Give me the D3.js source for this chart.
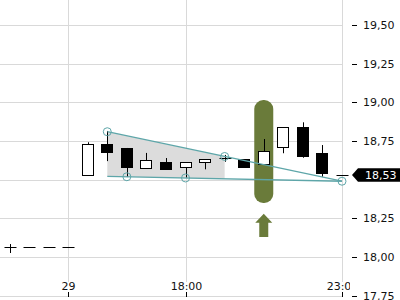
<!DOCTYPE html>
<html><head><meta charset="utf-8">
<script src="https://cdn.jsdelivr.net/npm/d3@7"></script>
<style>html,body{margin:0;padding:0;background:#fff;overflow:hidden}svg{display:block}text{font-family:"DejaVu Sans",sans-serif;font-size:11px}</style>
</head><body><svg id="c" width="400" height="300"></svg>
<script>
// ---- data ----
const openV  = [18.066,18.066,18.066,18.066,18.53,18.73,18.705,18.574,18.614,18.58,18.612,18.638,18.632,18.60,18.71,18.839,18.673,18.53];
const closeV = [18.066,18.066,18.066,18.066,18.73,18.68,18.58,18.629,18.571,18.612,18.632,18.638,18.58,18.684,18.839,18.655,18.545,18.53];
const highV  = [18.084,18.066,18.066,18.066,18.742,18.815,18.705,18.673,18.64,18.612,18.632,18.66,18.632,18.763,18.839,18.871,18.724,18.53];
const lowV   = [18.026,18.066,18.066,18.066,18.53,18.62,18.517,18.574,18.571,18.513,18.567,18.616,18.58,18.60,18.671,18.642,18.519,18.53];
const xTickIdx = [3, 9, 17];
const xTickLabels = ["29", "18:00", "23:00"];
const yTicks = [17.75, 18.00, 18.25, 18.50, 18.75, 19.00, 19.25, 19.50];
const upperLine = [[5, 18.81], [11, 18.65], [17, 18.49]];
const lowerLine = [[5, 18.522], [17, 18.49]];
const pivots = [[5, 18.81], [6, 18.519], [9, 18.511], [11, 18.65], [17, 18.49]];
const fillRange = [5, 11];
const highlightIdx = 13;
const highlightRange = [18.35, 19.015];
const arrowRange = [18.28, 18.13];
const lastPrice = 18.53;

// ---- scales ----
const svg = d3.select("#c");
const x = d3.scaleLinear().domain([0, 17]).range([9.5, 342]);
const y = d3.scaleLinear().domain([17.75, 19.5]).range([295.7, 25]);
const plotRight = 343;
const grid = "#d9d9d9", teal = "#5ea6a9", green = "#6a7b3a";
const fmt = v => d3.format(".2f")(v).replace(".", ",");
const cx = i => Math.round(x(i));

// gridlines
svg.append("g").selectAll("line").data(yTicks).join("line")
  .attr("x1", 0).attr("x2", plotRight)
  .attr("y1", d => Math.round(y(d)) + 0.5).attr("y2", d => Math.round(y(d)) + 0.5)
  .attr("stroke", grid);
svg.append("g").selectAll("line").data(xTickIdx).join("line")
  .attr("x1", d => cx(d) + 0.5).attr("x2", d => cx(d) + 0.5)
  .attr("y1", 0).attr("y2", 282).attr("stroke", grid);
svg.append("line").attr("x1", plotRight - 0.5).attr("x2", plotRight - 0.5).attr("y1", 0).attr("y2", 282).attr("stroke", grid);

// gray fill between trend lines
const lineVal = (pts, i) => {
  for (let k = 0; k < pts.length - 1; k++) {
    const [a, va] = pts[k], [b, vb] = pts[k + 1];
    if (i >= a && i <= b) return va + (vb - va) * (i - a) / (b - a);
  }
  return pts[pts.length - 1][1];
};
const fillPts = [
  [x(fillRange[0]), y(lineVal(upperLine, fillRange[0]))],
  [x(fillRange[1]), y(lineVal(upperLine, fillRange[1]))],
  [x(fillRange[1]), y(lineVal(lowerLine, fillRange[1]))],
  [x(fillRange[0]), y(lineVal(lowerLine, fillRange[0]))]
];
svg.append("polygon").attr("points", fillPts.map(p => p.join(",")).join(" ")).attr("fill", "#dcdcdc");

// highlight pill
const hx = x(highlightIdx);
svg.append("rect").attr("x", hx - 9.5).attr("width", 19)
  .attr("y", y(highlightRange[1])).attr("height", y(highlightRange[0]) - y(highlightRange[1]))
  .attr("rx", 9).attr("ry", 9).attr("fill", green);
// arrow
const at = y(arrowRange[0]), ab = y(arrowRange[1]);
svg.append("path").attr("fill", green).attr("d",
  `M${hx},${at} L${hx + 8.5},${at + 9} L${hx + 4.5},${at + 9} L${hx + 4.5},${ab} L${hx - 4.5},${ab} L${hx - 4.5},${at + 9} L${hx - 8.5},${at + 9} Z`);

// candles
const idx = d3.range(openV.length);
const cg = svg.append("g");
idx.forEach(i => {
  const c = cx(i) + 0.5;
  const o = openV[i], cl = closeV[i];
  cg.append("line").attr("x1", c).attr("x2", c)
    .attr("y1", y(highV[i])).attr("y2", y(lowV[i])).attr("stroke", "#000");
  if (Math.abs(o - cl) < 1e-6) {
    cg.append("line").attr("x1", c - 6).attr("x2", c + 6)
      .attr("y1", Math.round(y(o)) + 0.5).attr("y2", Math.round(y(o)) + 0.5).attr("stroke", "#000");
  } else {
    const top = Math.round(y(Math.max(o, cl))), bot = Math.round(y(Math.min(o, cl)));
    cg.append("rect").attr("x", c - 6).attr("width", 11)
      .attr("y", top + 0.5).attr("height", bot - top)
      .attr("fill", cl > o ? "#fff" : "#000").attr("stroke", "#000");
  }
});

// trend lines
const lg = d3.line().x(d => x(d[0])).y(d => y(d[1]));
svg.append("path").attr("d", lg(upperLine)).attr("fill", "none").attr("stroke", teal).attr("stroke-width", 1.3);
svg.append("path").attr("d", lg(lowerLine)).attr("fill", "none").attr("stroke", teal).attr("stroke-width", 1.3);
svg.append("g").selectAll("circle").data(pivots).join("circle")
  .attr("cx", d => x(d[0])).attr("cy", d => y(d[1])).attr("r", 4)
  .attr("fill", "none").attr("stroke", teal).attr("stroke-width", 1);

// y axis (tick near the last-price tag is hidden by the tag)
const shownY = yTicks.filter(v => Math.abs(y(v) - y(lastPrice)) > 10);
const ya = svg.append("g");
ya.selectAll("line").data(shownY).join("line")
  .attr("x1", 352).attr("x2", 357)
  .attr("y1", d => Math.round(y(d)) + 0.5).attr("y2", d => Math.round(y(d)) + 0.5).attr("stroke", "#000");
ya.selectAll("text").data(shownY).join("text")
  .attr("x", 363).attr("y", d => y(d)).attr("dy", "0.36em").attr("fill", "#111").text(fmt);

// x axis
svg.append("defs").append("clipPath").attr("id", "xc").append("rect").attr("x", 0).attr("y", 0).attr("width", 350).attr("height", 300);
const xa = svg.append("g").attr("clip-path", "url(#xc)");
xa.selectAll("line").data(xTickIdx).join("line")
  .attr("x1", d => cx(d) + 0.5).attr("x2", d => cx(d) + 0.5).attr("y1", 292).attr("y2", 297).attr("stroke", "#000");
xa.selectAll("text").data(xTickIdx).join("text")
  .attr("x", d => cx(d) + 0.5).attr("y", 290).attr("text-anchor", "middle").attr("fill", "#111")
  .text((d, k) => xTickLabels[k]);

// last price label
const py = y(lastPrice);
svg.append("path").attr("fill", "#000").attr("d",
  `M352,${py} L358,${py - 6.7} L400,${py - 6.7} L400,${py + 6.7} L358,${py + 6.7} Z`);
svg.append("text").attr("x", 365).attr("y", py).attr("dy", "0.36em").attr("fill", "#fff").text(fmt(lastPrice));
</script></body></html>
